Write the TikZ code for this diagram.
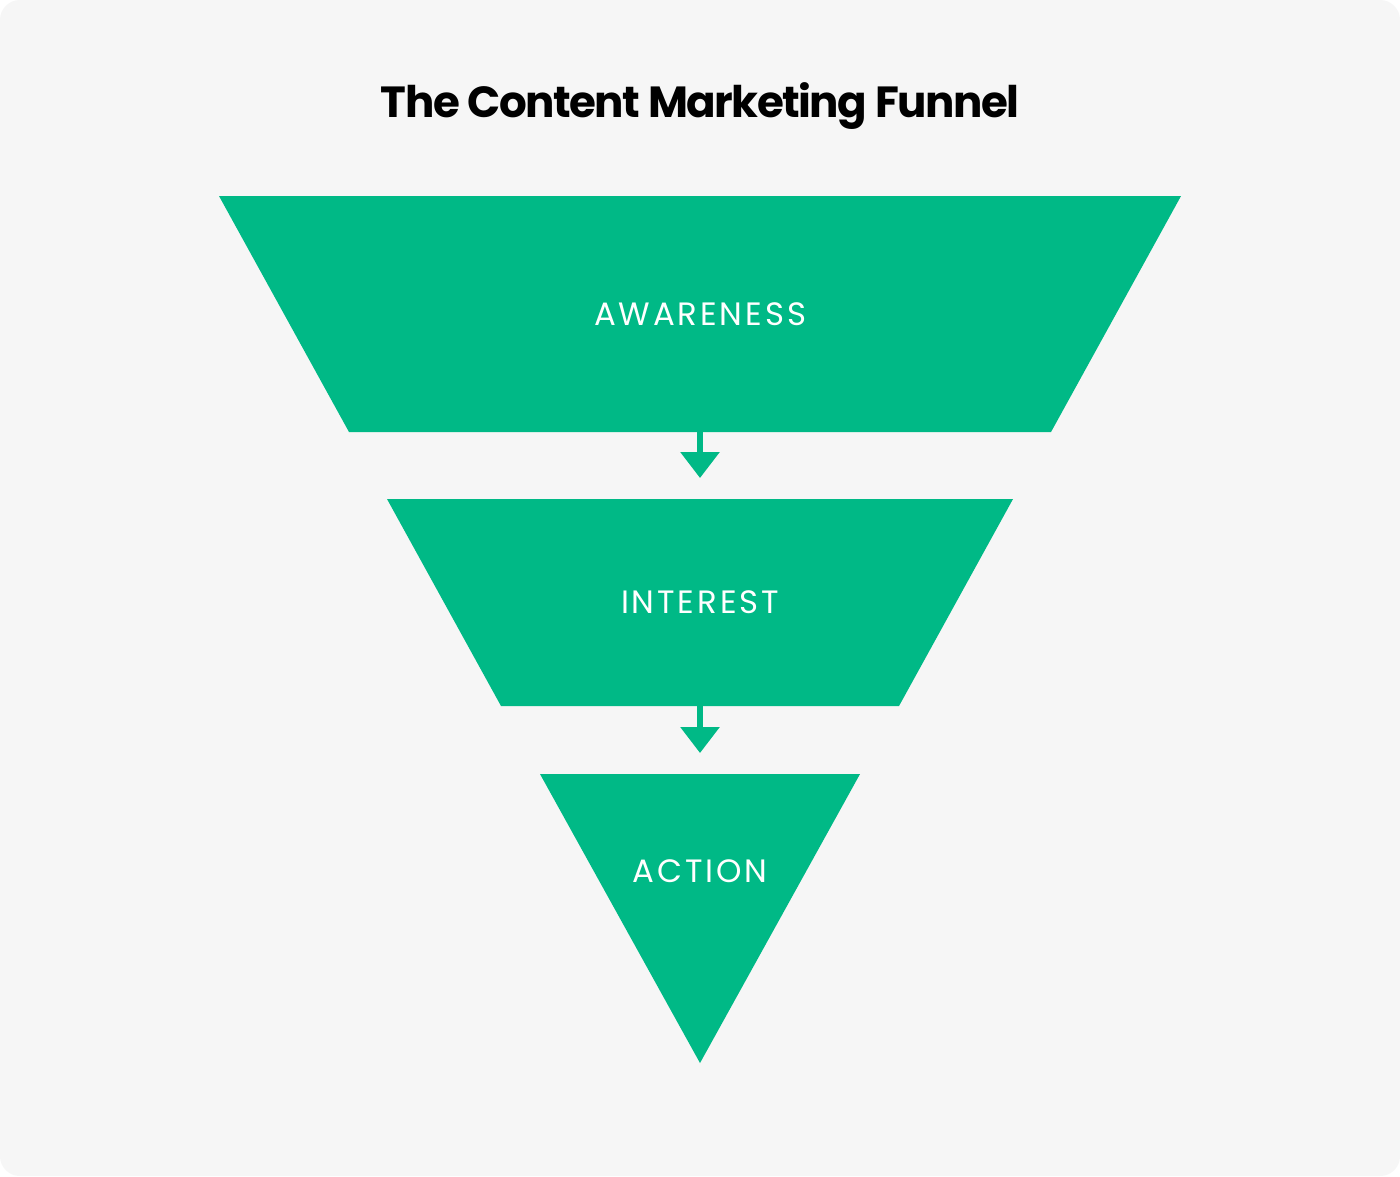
\documentclass[tikz,border=0pt]{standalone}
\usepackage{fontspec}
\setmainfont{Poppins}
\usetikzlibrary{arrows.meta}

\definecolor{funnelgreen}{HTML}{00B986}
\definecolor{paper}{HTML}{F6F6F6}

\tikzset{
    stage/.style={fill=funnelgreen},
    stagelabel/.style={anchor=base, text=white,
        font=\fontsize{9.2}{11}\selectfont\addfontfeatures{LetterSpace=9}},
    flow/.style={draw=funnelgreen, line width=0.6mm, shorten >=2.1mm,
        -{Triangle[width=3.8mm, length=2.6mm]}},
}

\begin{document}
\begin{tikzpicture}[x=0.1mm, y=-0.1mm]
    % page and card
    \useasboundingbox (0, 0) rectangle (1400, 1176);
    \fill[white] (0, 0) rectangle (1400, 1176);
    \fill[paper, rounded corners=2mm] (0, 0) rectangle (1400, 1176);

    % title
    \node[anchor=base, font=\fontsize{12.4}{15}\selectfont\bfseries\addfontfeatures{LetterSpace=-3.5}] (title) at (700, 117) {The Content Marketing Funnel};

    % funnel stages
    \fill[stage] (219, 196) -- (1181, 196) -- (1051, 432) -- (349, 432) -- cycle;
    \fill[stage] (387, 499) -- (1013, 499) -- (899, 706) -- (501, 706) -- cycle;
    \fill[stage] (540, 774) -- (860, 774) -- (700, 1063) -- cycle;

    % stage labels
    \node[stagelabel] (awareness) at (700, 325) {AWARENESS};
    \node[stagelabel] (interest) at (700, 613) {INTEREST};
    \node[stagelabel] (action) at (700, 882) {ACTION};

    % stage edges
    \coordinate (awareness-out) at (700, 432);
    \coordinate (interest-in) at (700, 499);
    \coordinate (interest-out) at (700, 706);
    \coordinate (action-in) at (700, 774);

    % arrows between stages
    \draw[flow] (awareness-out) -- (interest-in);
    \draw[flow] (interest-out) -- (action-in);
\end{tikzpicture}
\end{document}
